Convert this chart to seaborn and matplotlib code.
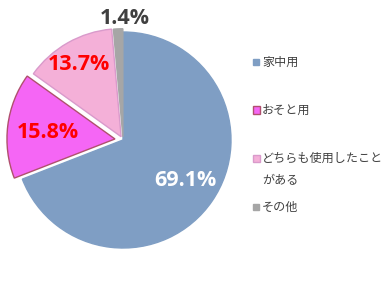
import matplotlib
matplotlib.use("Agg")
import matplotlib.pyplot as plt
from matplotlib.patches import Rectangle
import seaborn as sns

sns.set_theme(style="white")
plt.rcParams['font.family'] = ['Noto Sans CJK JP', 'DejaVu Sans']

categories = ["家中用", "おそと用", "どちらも使用したこと\nがある", "その他"]
values = [69.1, 15.8, 13.7, 1.4]
colors = ["#7F9EC4", "#F566F5", "#F4B0D8", "#A6A6A6"]
edges = ["#7F9EC4", "#B0506E", "#D99ACB", "#A6A6A6"]
explode = [0.0, 0.075, 0.035, 0.03]
label_colors = ["white", "#FF0000", "#FF0000", "#404040"]

W, H = 384, 281
fig = plt.figure(figsize=(W / 100, H / 100), dpi=100)
cx, cy, R = 123, 140, 108
half = 125
ax = fig.add_axes([(cx - half) / W, (H - cy - half) / H, 2 * half / W, 2 * half / H])

wedges, _ = ax.pie(values, colors=colors, startangle=90, counterclock=False,
                   explode=explode, radius=1.0,
                   wedgeprops=dict(linewidth=1.0))
for w, ec in zip(wedges, edges):
    w.set_edgecolor(ec)
lim = half / R
ax.set_xlim(-lim, lim)
ax.set_ylim(-lim, lim)
ax.set_aspect('equal')
ax.axis('off')

# percent labels (positions in pixel layout)
lab_pos = [(185, 180), (48, 132), (79, 65), (125, 19)]
for v, (px, py), c in zip(values, lab_pos, label_colors):
    fig.text(px / W, 1 - py / H, f"{v}%", color=c, fontsize=15.5, fontweight='bold',
             ha='center', va='center', family=['Open Sans', 'DejaVu Sans'])

# legend: first-line positions
leg_y = [62, 110, 158, 207]
line_gap = 23
for lab, c, ec, y in zip(categories, colors, edges, leg_y):
    size = 7 if ec != c else 6
    fig.patches.append(Rectangle(((256 - size / 2) / W, 1 - (y + size / 2) / H), size / W, size / H,
                                 transform=fig.transFigure, facecolor=c, edgecolor=ec,
                                 linewidth=1.0))
    for i, line in enumerate(lab.split("\n")):
        fig.text(262 / W, 1 - (y + i * line_gap) / H, line, fontsize=8.7, color="#404040",
                 ha='left', va='center')

fig.savefig("out.png", dpi=100)
